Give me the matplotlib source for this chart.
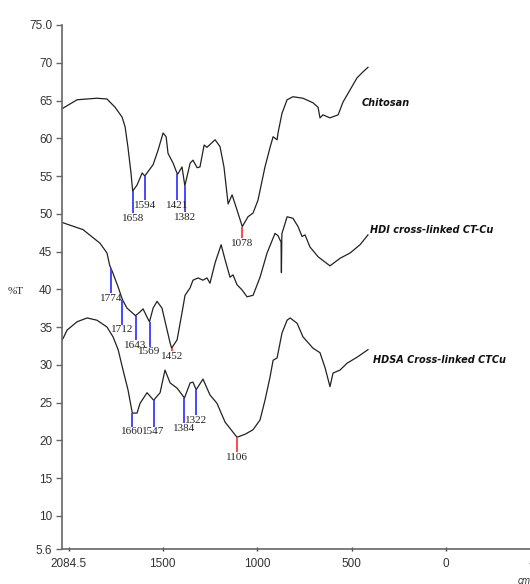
import numpy as np
import matplotlib
matplotlib.use("Agg")
import matplotlib.pyplot as plt

# ---- data (wavenumber cm-1, %T) ----
chitosan_w = [2032, 2026, 1952, 1847, 1794, 1751, 1714, 1698, 1683, 1667, 1658, 1635, 1608, 1594,
              1550, 1524, 1497, 1481, 1471, 1444, 1421, 1397, 1382, 1354, 1339, 1317, 1302, 1280,
              1265, 1222, 1196, 1175, 1153, 1132, 1106, 1078, 1048, 1021, 995, 958, 931, 915, 894,
              889, 868, 841, 810, 757, 704, 677, 667, 651, 614, 571, 545, 508, 471, 439, 413]
chitosan_t = [63.9, 64.0, 65.1, 65.3, 65.2, 64.1, 62.8, 61.5, 58.8, 55.4, 53.0, 53.8, 55.4, 55.0,
              56.5, 58.4, 60.7, 60.2, 58.0, 56.7, 55.2, 56.2, 53.7, 56.7, 57.1, 56.1, 56.2, 59.1,
              58.8, 59.8, 58.9, 56.2, 51.3, 52.5, 50.5, 48.3, 49.6, 50.1, 51.8, 56.2, 58.8, 60.2, 59.8,
              60.7, 63.3, 65.1, 65.5, 65.3, 64.7, 64.1, 62.7, 63.1, 62.7, 63.1, 64.8, 66.4, 68.0, 68.8, 69.4]

hdi_w = [2032, 2026, 1921, 1831, 1794, 1780, 1774, 1765, 1735, 1712, 1688, 1661, 1643, 1619, 1603,
         1582, 1569, 1550, 1529, 1503, 1476, 1460, 1452, 1423, 1397, 1381, 1354, 1339, 1312, 1286,
         1265, 1249, 1222, 1190, 1169, 1143, 1127, 1106, 1079, 1053, 1037, 1021, 984, 947, 905, 889,
         878, 873, 871, 869, 868, 841, 810, 783, 762, 746, 720, 677, 614, 561, 508, 455, 413]
hdi_t = [48.9, 48.8, 47.9, 46.1, 44.8, 43.2, 42.8, 42.3, 40.3, 38.6, 37.5, 36.9, 36.5, 37.0, 37.4,
         36.3, 35.7, 37.5, 38.4, 37.5, 34.6, 32.9, 32.2, 33.3, 36.9, 39.2, 40.2, 41.2, 41.5, 41.2,
         41.5, 40.8, 43.5, 45.9, 43.9, 41.6, 41.9, 40.6, 39.9, 39.0, 39.1, 39.2, 41.6, 44.8, 47.4, 47.1,
         46.5, 46.3, 42.2, 46.8, 47.4, 49.6, 49.4, 48.3, 47.0, 47.2, 45.6, 44.3, 43.1, 44.1, 44.8, 45.9, 47.2]

hdsa_w = [2032, 2026, 2005, 1952, 1899, 1847, 1794, 1762, 1735, 1709, 1683, 1660, 1635, 1619, 1582,
          1547, 1513, 1487, 1460, 1423, 1384, 1354, 1339, 1322, 1286, 1249, 1212, 1169, 1106, 1063,
          1021, 984, 958, 931, 915, 894, 868, 841, 825, 788, 757, 704, 667, 640, 614, 598, 561, 524,
          471, 413]
hdsa_t = [33.3, 33.5, 34.6, 35.7, 36.2, 35.9, 35.0, 33.7, 32.0, 29.3, 26.7, 23.6, 23.6, 24.9, 26.3,
          25.3, 26.3, 29.3, 27.6, 26.9, 25.6, 27.6, 27.7, 26.7, 28.1, 26.0, 24.9, 22.4, 20.4, 20.8,
          21.4, 22.7, 25.3, 28.4, 30.6, 30.9, 34.2, 35.9, 36.2, 35.5, 33.7, 32.2, 31.6, 29.6, 27.1,
          28.9, 29.3, 30.2, 31.0, 32.0]

series_names = ["Chitosan", "HDI cross-linked CT-Cu", "HDSA Cross-linked CTCu"]
series_label_pos = [(444, 64.7), (402, 47.8), (386, 30.6)]

# peak annotations: (series index, wavenumber, line bottom %T, colour key)
peaks = [
    (0, 1658, 50.1, "b"), (0, 1594, 51.8, "b"), (0, 1421, 51.8, "b"), (0, 1382, 50.2, "b"), (0, 1078, 46.8, "r"),
    (1, 1774, 39.5, "b"), (1, 1712, 35.3, "b"), (1, 1643, 33.3, "b"), (1, 1569, 32.4, "b"), (1, 1452, 31.8, "r"),
    (2, 1660, 21.8, "b"), (2, 1547, 21.8, "b"), (2, 1384, 22.3, "b"), (2, 1322, 23.3, "b"), (2, 1106, 18.4, "r"),
]

y_ticks = [75, 70, 65, 60, 55, 50, 45, 40, 35, 30, 25, 20, 15, 10, 5.6]
y_tick_labels = ["75.0", "70", "65", "60", "55", "50", "45", "40", "35", "30", "25", "20", "15", "10", "5.6"]
x_ticks = [1995, 1500, 1000, 500, 0, -500]
x_tick_labels = ["2084.5", "1500", "1000", "500", "0", "-500"]

# ---- figure ----
fig = plt.figure(figsize=(5.30, 5.84), dpi=100)
ax = fig.add_axes([62 / 530, 35 / 584, (560 - 62) / 530, (549 - 25) / 584])
ax.set_xlim(2032, -603)
ax.set_ylim(5.6, 75)

series = [(chitosan_w, chitosan_t), (hdi_w, hdi_t), (hdsa_w, hdsa_t)]
for w, t in series:
    ax.plot(w, t, color="#222222", lw=0.9, solid_joinstyle="round")

cols = {"b": "#3a3aff", "r": "#ff3a3a"}
for si, wn, bottom, c in peaks:
    w, t = series[si]
    top = np.interp(wn, w[::-1], t[::-1])
    ax.plot([wn, wn], [top, bottom], color=cols[c], lw=1.3, solid_capstyle="butt")
    ax.annotate(str(wn), (wn, bottom), xytext=(0, -0.5), textcoords="offset points",
                ha="center", va="top", fontsize=8, family="Liberation Serif", color="#222222")

for name, (x, y) in zip(series_names, series_label_pos):
    ax.text(x, y, name, fontsize=7, fontweight="bold", fontstyle="italic",
            family="DejaVu Sans", ha="left", va="center", color="#111111")

for s in ["top", "right"]:
    ax.spines[s].set_visible(False)
for s in ["left", "bottom"]:
    ax.spines[s].set_color("#666666")
    ax.spines[s].set_linewidth(1.2)

ax.set_yticks(y_ticks)
ax.set_yticklabels(y_tick_labels)
ax.set_xticks(x_ticks)
ax.set_xticklabels(x_tick_labels)
ax.tick_params(axis="y", direction="out", length=4, width=1, color="#666666", pad=3,
               labelsize=8.5, labelcolor="#333333")
ax.tick_params(axis="x", direction="inout", length=3, width=1, color="#444444", pad=5,
               labelsize=8.5, labelcolor="#333333")
for lab in ax.get_xticklabels() + ax.get_yticklabels():
    lab.set_family("Liberation Sans")

fig.text(8 / 530, 1 - 292 / 584, "%T", fontsize=8, family="Liberation Serif",
         ha="left", va="center", color="#222222")
fig.text(518 / 530, 1 - 581 / 584, "cm-1", fontsize=7, fontstyle="italic",
         family="Liberation Sans", ha="left", va="center", color="#333333")

fig.savefig("out.png", dpi=100)
